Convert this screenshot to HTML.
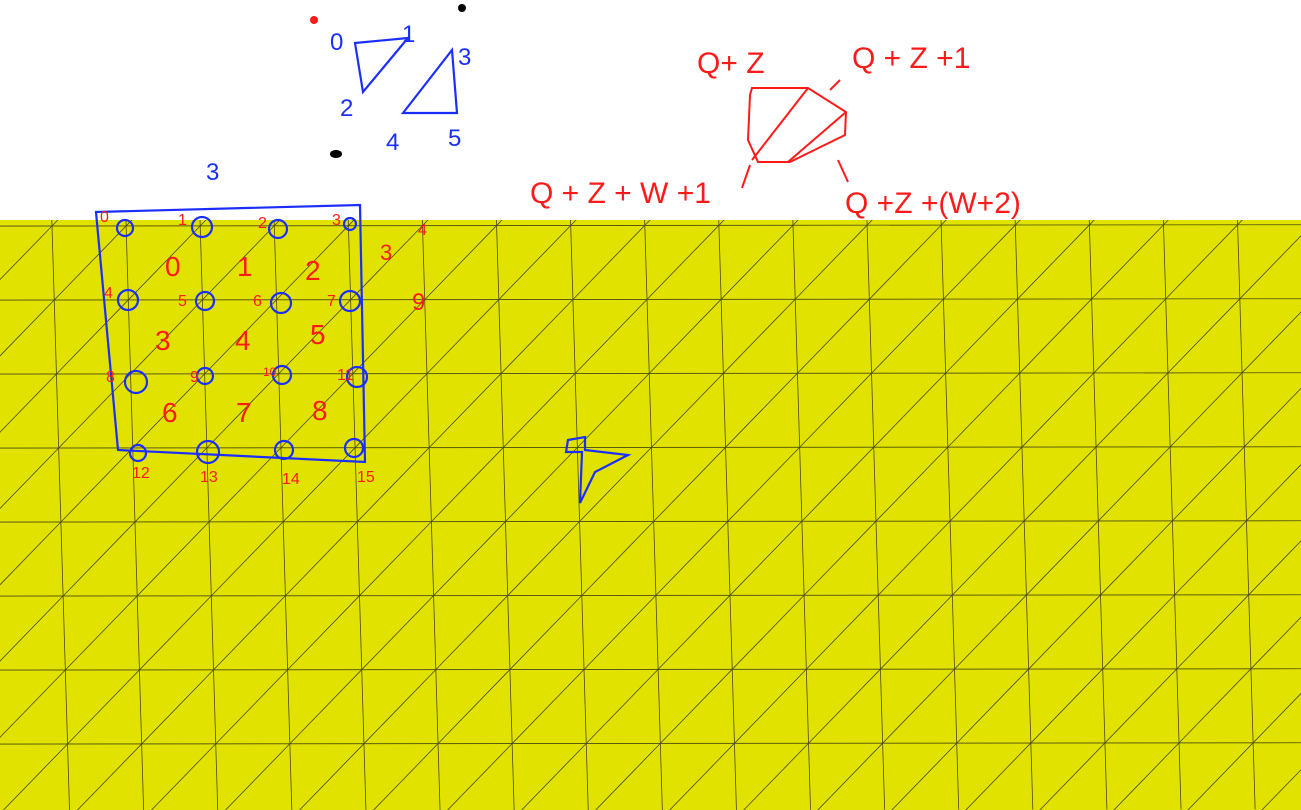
<!DOCTYPE html>
<html><head><meta charset="utf-8"><style>
html,body{margin:0;padding:0;width:1301px;height:810px;overflow:hidden;background:#fff}
svg{display:block;overflow:hidden}
text{font-family:"Liberation Sans",sans-serif}
</style></head><body>
<svg id="s" width="1301" height="810" viewBox="0 0 1301 810">
<defs><clipPath id="cp"><rect x="0" y="220" width="1301" height="590"/></clipPath></defs>
<rect x="0" y="220" width="1301" height="590" fill="#e2e200"/>
<g id="grid" stroke="#4a4a10" stroke-width="0.8" fill="none" clip-path="url(#cp)"></g>
<g stroke="#1a2eff" stroke-width="2.2" fill="none" stroke-linecap="round">
<path d="M355 43 L408 38 L363 92 Z"/>
<path d="M403 113 L452 50 L457 113 Z"/>
<path d="M96 212 L360 205 L365 462 L118 450 Z"/>
<circle cx="125" cy="228" r="8"/><circle cx="202" cy="227" r="10"/><circle cx="278" cy="229" r="9"/><circle cx="350" cy="224" r="6"/>
<circle cx="128" cy="300" r="10"/><circle cx="205" cy="301" r="9"/><circle cx="281" cy="303" r="10"/><circle cx="350" cy="301" r="10"/>
<circle cx="136" cy="382" r="11"/><circle cx="205" cy="376" r="8"/><circle cx="282" cy="375" r="9"/><circle cx="357" cy="377" r="10"/>
<circle cx="138" cy="453" r="8"/><circle cx="208" cy="452" r="11"/><circle cx="284" cy="450" r="9"/><circle cx="354" cy="448" r="9"/>
<path d="M568 440 L585 437 L585 450 L628 455 L595 472 L580 503 L582 452 L566 452 Z"/>
</g>
<g fill="#1a2eff" font-size="24">
<text x="330" y="50">0</text><text x="402" y="42">1</text><text x="340" y="116">2</text>
<text x="458" y="65">3</text><text x="386" y="150">4</text><text x="448" y="146">5</text>
<text x="206" y="180">3</text>
</g>
<g stroke="#ff1a1a" stroke-width="2" fill="none">
<path d="M752 88 L808 88 L846 112 L845 135 L790 162 L758 162 L748 140 L750 95 Z"/>
<path d="M752 160 L808 88 M788 162 L846 112 M830 90 L840 80 M750 165 L742 188 M838 160 L848 182"/>
</g>
<g fill="#ff1a1a" font-size="30">
<text x="697" y="73">Q+ Z</text>
<text x="852" y="68">Q + Z +1</text>
<text x="530" y="203">Q + Z + W +1</text>
<text x="845" y="213">Q +Z +(W+2)</text>
</g>
<g fill="#ff1a1a" font-size="16">
<text x="100" y="222">0</text><text x="178" y="225">1</text><text x="258" y="228">2</text><text x="332" y="225">3</text><text x="418" y="235">4</text>
<text x="104" y="298">4</text><text x="178" y="306">5</text><text x="253" y="306">6</text><text x="327" y="306">7</text><text x="412" y="310" font-size="24">9</text>
<text x="106" y="382">8</text><text x="190" y="382">9</text><text x="263" y="376" font-size="12">10</text><text x="337" y="380">11</text>
<text x="132" y="478">12</text><text x="200" y="482">13</text><text x="282" y="484">14</text><text x="357" y="482">15</text>
</g>
<g fill="#ff1a1a" font-size="28">
<text x="165" y="276">0</text><text x="237" y="276">1</text><text x="305" y="280">2</text><text x="380" y="260" font-size="22">3</text>
<text x="155" y="350">3</text><text x="235" y="350">4</text><text x="310" y="344">5</text>
<text x="162" y="422">6</text><text x="236" y="422">7</text><text x="312" y="420">8</text>
</g>
<circle cx="314" cy="20" r="4" fill="#ff1a1a"/>
<circle cx="462" cy="8" r="4" fill="#000"/>
<ellipse cx="336" cy="154" rx="6" ry="4" fill="#000"/>
</svg>
<script>
const cols=[];for(let i=-1;i<19;i++)cols.push(i);
const rows=[];for(let j=0;j<9;j++)rows.push(j);
const g=document.getElementById('grid');
const x0=52,dx=74.1,y0=226,dy=74,slant=0.03;
function P(i,j){return [x0+i*dx+j*dy*slant, y0+j*dy-i*dx*0.001];}
function L(a,b,n){const l=document.createElementNS('http://www.w3.org/2000/svg','line');
l.setAttribute('x1',a[0]);l.setAttribute('y1',a[1]);l.setAttribute('x2',b[0]);l.setAttribute('y2',b[1]);


g.appendChild(l);}
cols.forEach(i=>L(P(i,-0.1),P(i,7.9),'grid-vertical'));
rows.forEach(j=>L(P(-1,j),P(17.5,j),'grid-horizontal'));
cols.forEach(i=>rows.forEach(j=>L(P(i,j),P(i+1,j-1),'grid-diagonal')));
</script>
</body></html>
